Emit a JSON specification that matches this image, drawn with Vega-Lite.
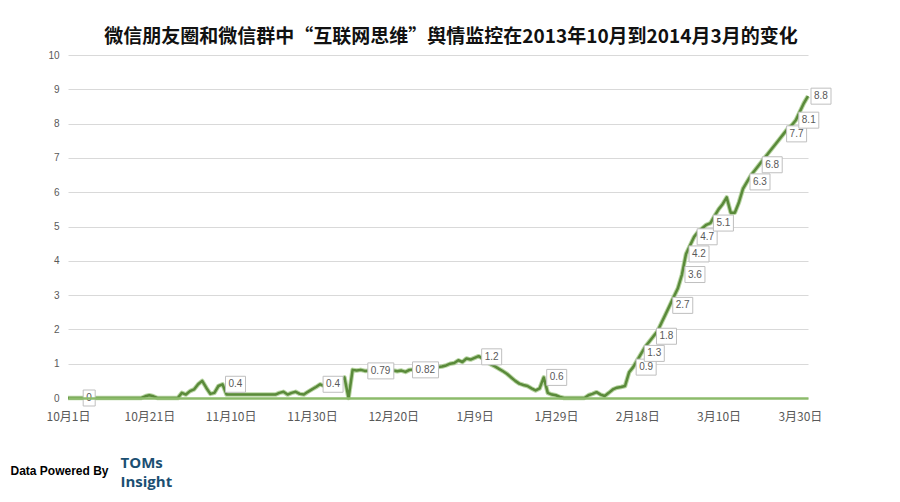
{
  "$schema": "https://vega.github.io/schema/vega-lite/v6.json",
  "width": 740,
  "height": 343,
  "autosize": {"type": "none"},
  "padding": {"left": 68, "top": 55, "right": 92, "bottom": 104},
  "background": "#ffffff",
  "config": {
    "view": {"stroke": null},
    "font": "Liberation Sans"
  },
  "title": {
    "text": "微信朋友圈和微信群中“互联网思维”舆情监控在2013年10月到2014月3月的变化",
    "font": "Noto Sans CJK SC",
    "fontSize": 19,
    "fontWeight": "bold",
    "color": "#111111",
    "anchor": "middle",
    "frame": "group",
    "baseline": "alphabetic",
    "offset": 10,
    "dx": 13,
    "dy": 22
  },
  "datasets": {
    "series": [
      {"date": "2013-10-01", "value": 0},
      {"date": "2013-10-19", "value": 0},
      {"date": "2013-10-20", "value": 0.05},
      {"date": "2013-10-21", "value": 0.08},
      {"date": "2013-10-22", "value": 0.05},
      {"date": "2013-10-23", "value": 0},
      {"date": "2013-10-28", "value": 0},
      {"date": "2013-10-29", "value": 0.15},
      {"date": "2013-10-30", "value": 0.1},
      {"date": "2013-10-31", "value": 0.2},
      {"date": "2013-11-01", "value": 0.25},
      {"date": "2013-11-02", "value": 0.4},
      {"date": "2013-11-03", "value": 0.5},
      {"date": "2013-11-04", "value": 0.3},
      {"date": "2013-11-05", "value": 0.12},
      {"date": "2013-11-06", "value": 0.15},
      {"date": "2013-11-07", "value": 0.35},
      {"date": "2013-11-08", "value": 0.4},
      {"date": "2013-11-09", "value": 0.1},
      {"date": "2013-11-21", "value": 0.1},
      {"date": "2013-11-22", "value": 0.15},
      {"date": "2013-11-23", "value": 0.18},
      {"date": "2013-11-24", "value": 0.1},
      {"date": "2013-11-25", "value": 0.15},
      {"date": "2013-11-26", "value": 0.18},
      {"date": "2013-11-27", "value": 0.12},
      {"date": "2013-11-28", "value": 0.1},
      {"date": "2013-11-29", "value": 0.18},
      {"date": "2013-11-30", "value": 0.25},
      {"date": "2013-12-01", "value": 0.32},
      {"date": "2013-12-02", "value": 0.4},
      {"date": "2013-12-03", "value": 0.35},
      {"date": "2013-12-04", "value": 0.3},
      {"date": "2013-12-05", "value": 0.35},
      {"date": "2013-12-06", "value": 0.45},
      {"date": "2013-12-07", "value": 0.5},
      {"date": "2013-12-08", "value": 0.6},
      {"date": "2013-12-09", "value": 0},
      {"date": "2013-12-10", "value": 0.82},
      {"date": "2013-12-11", "value": 0.8},
      {"date": "2013-12-12", "value": 0.82},
      {"date": "2013-12-13", "value": 0.79},
      {"date": "2013-12-15", "value": 0.8},
      {"date": "2013-12-17", "value": 0.82},
      {"date": "2013-12-19", "value": 0.78},
      {"date": "2013-12-20", "value": 0.8},
      {"date": "2013-12-21", "value": 0.78},
      {"date": "2013-12-22", "value": 0.8},
      {"date": "2013-12-23", "value": 0.76},
      {"date": "2013-12-24", "value": 0.82},
      {"date": "2013-12-26", "value": 0.84},
      {"date": "2013-12-28", "value": 0.86},
      {"date": "2013-12-31", "value": 0.9},
      {"date": "2014-01-01", "value": 0.92},
      {"date": "2014-01-02", "value": 0.95},
      {"date": "2014-01-03", "value": 1.0},
      {"date": "2014-01-04", "value": 1.02},
      {"date": "2014-01-05", "value": 1.1},
      {"date": "2014-01-06", "value": 1.05},
      {"date": "2014-01-07", "value": 1.15},
      {"date": "2014-01-08", "value": 1.12},
      {"date": "2014-01-09", "value": 1.17},
      {"date": "2014-01-10", "value": 1.22},
      {"date": "2014-01-11", "value": 1.15},
      {"date": "2014-01-12", "value": 1.05},
      {"date": "2014-01-13", "value": 0.98},
      {"date": "2014-01-14", "value": 0.92},
      {"date": "2014-01-15", "value": 0.85},
      {"date": "2014-01-16", "value": 0.78},
      {"date": "2014-01-17", "value": 0.7},
      {"date": "2014-01-18", "value": 0.6},
      {"date": "2014-01-19", "value": 0.5},
      {"date": "2014-01-20", "value": 0.42},
      {"date": "2014-01-21", "value": 0.38},
      {"date": "2014-01-22", "value": 0.35},
      {"date": "2014-01-23", "value": 0.28},
      {"date": "2014-01-24", "value": 0.22},
      {"date": "2014-01-25", "value": 0.28},
      {"date": "2014-01-26", "value": 0.6},
      {"date": "2014-01-27", "value": 0.15},
      {"date": "2014-01-28", "value": 0.1},
      {"date": "2014-01-29", "value": 0.08},
      {"date": "2014-01-30", "value": 0.03},
      {"date": "2014-01-31", "value": 0},
      {"date": "2014-02-05", "value": 0},
      {"date": "2014-02-06", "value": 0.08},
      {"date": "2014-02-07", "value": 0.12},
      {"date": "2014-02-08", "value": 0.17},
      {"date": "2014-02-09", "value": 0.1},
      {"date": "2014-02-10", "value": 0.06},
      {"date": "2014-02-11", "value": 0.15},
      {"date": "2014-02-12", "value": 0.25},
      {"date": "2014-02-13", "value": 0.3},
      {"date": "2014-02-14", "value": 0.32},
      {"date": "2014-02-15", "value": 0.35},
      {"date": "2014-02-16", "value": 0.75},
      {"date": "2014-02-17", "value": 0.9},
      {"date": "2014-02-18", "value": 1.1},
      {"date": "2014-02-19", "value": 1.3},
      {"date": "2014-02-20", "value": 1.5},
      {"date": "2014-02-21", "value": 1.65},
      {"date": "2014-02-22", "value": 1.8},
      {"date": "2014-02-23", "value": 1.95},
      {"date": "2014-02-24", "value": 2.2},
      {"date": "2014-02-25", "value": 2.45},
      {"date": "2014-02-26", "value": 2.7},
      {"date": "2014-02-27", "value": 2.95},
      {"date": "2014-02-28", "value": 3.2},
      {"date": "2014-03-01", "value": 3.6},
      {"date": "2014-03-02", "value": 4.2},
      {"date": "2014-03-03", "value": 4.45},
      {"date": "2014-03-04", "value": 4.7},
      {"date": "2014-03-05", "value": 4.85},
      {"date": "2014-03-06", "value": 4.95},
      {"date": "2014-03-07", "value": 5.05},
      {"date": "2014-03-08", "value": 5.1},
      {"date": "2014-03-09", "value": 5.3},
      {"date": "2014-03-10", "value": 5.5},
      {"date": "2014-03-11", "value": 5.65},
      {"date": "2014-03-12", "value": 5.85},
      {"date": "2014-03-13", "value": 5.4},
      {"date": "2014-03-14", "value": 5.4},
      {"date": "2014-03-15", "value": 5.7},
      {"date": "2014-03-16", "value": 6.1},
      {"date": "2014-03-17", "value": 6.3},
      {"date": "2014-03-18", "value": 6.5},
      {"date": "2014-03-19", "value": 6.65},
      {"date": "2014-03-20", "value": 6.8},
      {"date": "2014-03-21", "value": 6.95},
      {"date": "2014-03-22", "value": 7.1},
      {"date": "2014-03-23", "value": 7.25},
      {"date": "2014-03-24", "value": 7.4},
      {"date": "2014-03-25", "value": 7.55},
      {"date": "2014-03-26", "value": 7.7},
      {"date": "2014-03-27", "value": 7.85},
      {"date": "2014-03-28", "value": 7.95},
      {"date": "2014-03-29", "value": 8.1},
      {"date": "2014-03-30", "value": 8.35},
      {"date": "2014-03-31", "value": 8.6},
      {"date": "2014-04-01", "value": 8.8}
    ],
    "labels": [
      {"date": "2013-10-04", "value": 0, "label": "0"},
      {"date": "2013-11-08", "value": 0.4, "label": "0.4"},
      {"date": "2013-12-02", "value": 0.4, "label": "0.4"},
      {"date": "2013-12-13", "value": 0.79, "label": "0.79"},
      {"date": "2013-12-24", "value": 0.82, "label": "0.82"},
      {"date": "2014-01-10", "value": 1.2, "label": "1.2"},
      {"date": "2014-01-26", "value": 0.6, "label": "0.6"},
      {"date": "2014-02-17", "value": 0.9, "label": "0.9"},
      {"date": "2014-02-19", "value": 1.3, "label": "1.3"},
      {"date": "2014-02-22", "value": 1.8, "label": "1.8"},
      {"date": "2014-02-26", "value": 2.7, "label": "2.7"},
      {"date": "2014-03-01", "value": 3.6, "label": "3.6"},
      {"date": "2014-03-02", "value": 4.2, "label": "4.2"},
      {"date": "2014-03-04", "value": 4.7, "label": "4.7"},
      {"date": "2014-03-08", "value": 5.1, "label": "5.1"},
      {"date": "2014-03-17", "value": 6.3, "label": "6.3"},
      {"date": "2014-03-20", "value": 6.8, "label": "6.8"},
      {"date": "2014-03-26", "value": 7.7, "label": "7.7"},
      {"date": "2014-03-29", "value": 8.1, "label": "8.1"},
      {"date": "2014-04-01", "value": 8.8, "label": "8.8"}
    ]
  },
  "encoding": {
    "x": {
      "field": "date",
      "type": "temporal",
      "scale": {
        "type": "utc",
        "domain": [
          {"year": 2013, "month": 10, "date": 1, "utc": true},
          {"year": 2014, "month": 4, "date": 1, "utc": true}
        ]
      },
      "axis": {
        "values": [
          {"year": 2013, "month": 10, "date": 1, "utc": true},
          {"year": 2013, "month": 10, "date": 21, "utc": true},
          {"year": 2013, "month": 11, "date": 10, "utc": true},
          {"year": 2013, "month": 11, "date": 30, "utc": true},
          {"year": 2013, "month": 12, "date": 20, "utc": true},
          {"year": 2014, "month": 1, "date": 9, "utc": true},
          {"year": 2014, "month": 1, "date": 29, "utc": true},
          {"year": 2014, "month": 2, "date": 18, "utc": true},
          {"year": 2014, "month": 3, "date": 10, "utc": true},
          {"year": 2014, "month": 3, "date": 30, "utc": true}
        ],
        "format": "%-m月%-d日",
        "labelFont": "Noto Sans CJK SC",
        "labelFontSize": 12,
        "labelColor": "#595959",
        "labelPadding": 13,
        "labelFlush": false,
        "labelOverlap": false,
        "ticks": false,
        "grid": false,
        "domainColor": "#8cbb6b",
        "domainWidth": 2.5,
        "zindex": 1,
        "title": ["TOMs", "Insight"],
        "titleFont": "Open Sans",
        "titleFontSize": 15,
        "titleFontWeight": "bold",
        "titleColor": "#1b4f72",
        "titleAlign": "left",
        "titleBaseline": "alphabetic",
        "titleLineHeight": 19,
        "titleX": 52,
        "titleY": 69
      }
    },
    "y": {
      "field": "value",
      "type": "quantitative",
      "scale": {"domain": [0, 10], "nice": false},
      "axis": {
        "values": [0, 1, 2, 3, 4, 5, 6, 7, 8, 9, 10],
        "domain": false,
        "ticks": false,
        "grid": true,
        "gridColor": "#d9d9d9",
        "gridWidth": 1,
        "labelColor": "#595959",
        "labelFontSize": 10,
        "labelPadding": 9,
        "title": "Data Powered By",
        "titleAngle": 0,
        "titleFont": "Liberation Sans",
        "titleFontSize": 12,
        "titleFontWeight": "bold",
        "titleColor": "#000000",
        "titleAlign": "left",
        "titleBaseline": "middle",
        "titleX": -58,
        "titleY": 415
      }
    }
  },
  "layer": [
    {
      "data": {"name": "series"},
      "mark": {"type": "line", "stroke": "#a6cb8c", "strokeWidth": 4.5, "strokeJoin": "round", "opacity": 0.8}
    },
    {
      "data": {"name": "series"},
      "mark": {"type": "line", "stroke": "#5a8a3a", "strokeWidth": 2.5, "strokeJoin": "round"}
    },
    {
      "data": {"name": "labels"},
      "transform": [{"filter": "length(datum.label) == 1"}],
      "mark": {"type": "rect", "fill": "#ffffff", "stroke": "#bfbfbf", "strokeWidth": 1, "xOffset": 3, "x2Offset": 15, "yOffset": -8, "y2Offset": 8},
      "encoding": {"x2": {"field": "date"}, "y2": {"field": "value"}}
    },
    {
      "data": {"name": "labels"},
      "transform": [{"filter": "length(datum.label) == 3"}],
      "mark": {"type": "rect", "fill": "#ffffff", "stroke": "#bfbfbf", "strokeWidth": 1, "xOffset": 3, "x2Offset": 23, "yOffset": -8, "y2Offset": 8},
      "encoding": {"x2": {"field": "date"}, "y2": {"field": "value"}}
    },
    {
      "data": {"name": "labels"},
      "transform": [{"filter": "length(datum.label) == 4"}],
      "mark": {"type": "rect", "fill": "#ffffff", "stroke": "#bfbfbf", "strokeWidth": 1, "xOffset": 3, "x2Offset": 29, "yOffset": -8, "y2Offset": 8},
      "encoding": {"x2": {"field": "date"}, "y2": {"field": "value"}}
    },
    {
      "data": {"name": "labels"},
      "mark": {"type": "text", "align": "left", "baseline": "middle", "dx": 6, "fontSize": 10, "color": "#595959"},
      "encoding": {"text": {"field": "label"}}
    }
  ]
}
